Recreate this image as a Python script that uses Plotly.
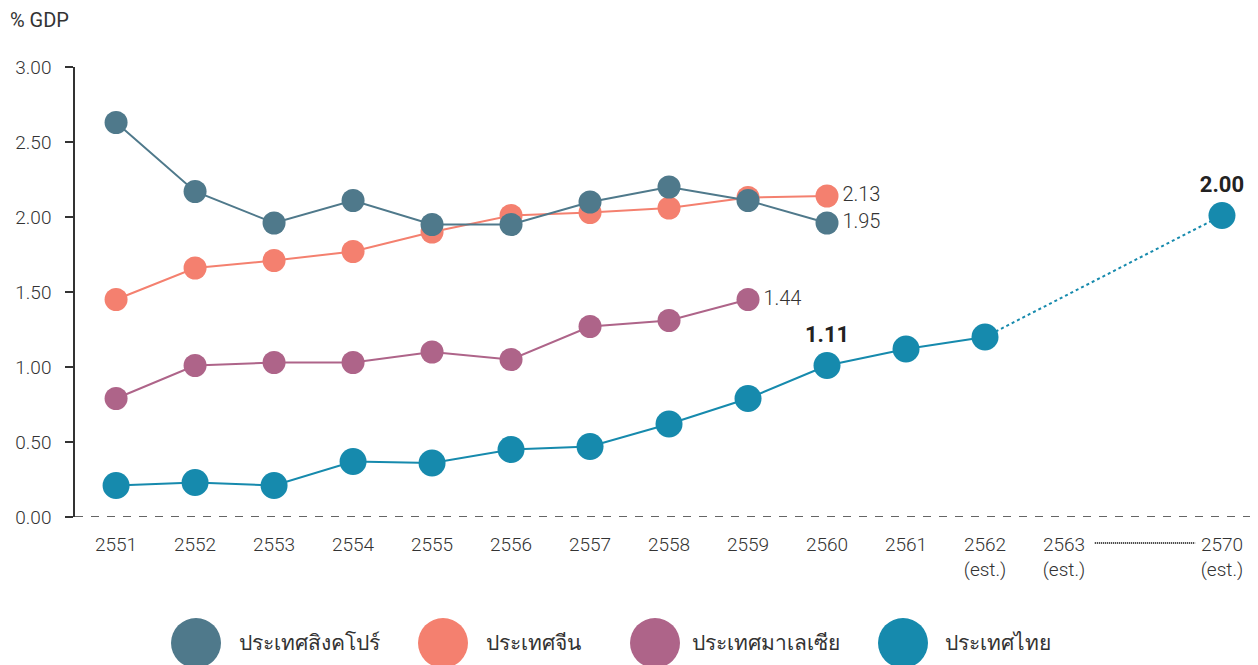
import plotly.graph_objects as go

# ---- data ----
years = ["2551", "2552", "2553", "2554", "2555", "2556", "2557", "2558",
         "2559", "2560", "2561", "2562", "2563", "2570"]
tick_text = ["2551", "2552", "2553", "2554", "2555", "2556", "2557", "2558",
             "2559", "2560", "2561", "2562<br>(est.)", "2563<br>(est.)", "2570<br>(est.)"]
tick_pos = [0, 1, 2, 3, 4, 5, 6, 7, 8, 9, 10, 11, 12, 14]

series_names = ["ประเทศสิงคโปร์", "ประเทศจีน", "ประเทศมาเลเซีย", "ประเทศไทย"]
colors = ["#4F798B", "#F4806F", "#AE6489", "#168AAD"]

singapore = [2.63, 2.17, 1.96, 2.11, 1.95, 1.95, 2.10, 2.20, 2.11, 1.96]
china = [1.45, 1.66, 1.71, 1.77, 1.90, 2.01, 2.03, 2.06, 2.13, 2.14]
malaysia = [0.79, 1.01, 1.03, 1.03, 1.10, 1.05, 1.27, 1.31, 1.45]
thailand = [0.21, 0.23, 0.21, 0.37, 0.36, 0.45, 0.47, 0.62, 0.79, 1.01, 1.12, 1.20]
thailand_target_year_pos = 14
thailand_target = 2.01

sg_label = "1.95"
cn_label = "2.13"
my_label = "1.44"
th_label = "1.11"
th_target_label = "2.00"

FONT = "Roboto"
TXT = "#333333"

fig = go.Figure()

def end_text(n, label):
    return [""] * (n - 1) + [label]

light = dict(family=FONT, size=20, color=TXT, weight=300)
bold = dict(family=FONT, size=22, color="#222222", weight="bold")

# Thailand dashed projection
fig.add_trace(go.Scatter(
    x=[tick_pos[len(thailand) - 1], thailand_target_year_pos],
    y=[thailand[-1], thailand_target],
    mode="lines", line=dict(color=colors[3], width=2, dash="dot"),
    hoverinfo="skip", showlegend=False))

fig.add_trace(go.Scatter(
    x=tick_pos[:len(china)], y=china, mode="lines+markers+text",
    line=dict(color=colors[1], width=2),
    marker=dict(color=colors[1], size=23),
    text=end_text(len(china), cn_label), textposition="middle right",
    textfont=light, cliponaxis=False, showlegend=False))

fig.add_trace(go.Scatter(
    x=tick_pos[:len(singapore)], y=singapore, mode="lines+markers+text",
    line=dict(color=colors[0], width=2),
    marker=dict(color=colors[0], size=23),
    text=end_text(len(singapore), sg_label), textposition="middle right",
    textfont=light, cliponaxis=False, showlegend=False))

fig.add_trace(go.Scatter(
    x=tick_pos[:len(malaysia)], y=malaysia, mode="lines+markers+text",
    line=dict(color=colors[2], width=2),
    marker=dict(color=colors[2], size=23),
    text=end_text(len(malaysia), my_label), textposition="middle right",
    textfont=light, cliponaxis=False, showlegend=False))

th_text = [""] * len(thailand)
th_text[9] = th_label
fig.add_trace(go.Scatter(
    x=tick_pos[:len(thailand)], y=thailand, mode="lines+markers+text",
    line=dict(color=colors[3], width=2),
    marker=dict(color=colors[3], size=27),
    text=th_text, textposition="top center",
    textfont=bold, cliponaxis=False, showlegend=False))

fig.add_trace(go.Scatter(
    x=[thailand_target_year_pos], y=[thailand_target], mode="markers+text",
    marker=dict(color=colors[3], size=27),
    text=[th_target_label], textposition="top center",
    textfont=bold, cliponaxis=False, showlegend=False))

# page body has an 8px margin; screen plot area x 75..1258, y 67..517
OFF = 8
W, H = 1258 - OFF, 665 - OFF
L, R = 75 - OFF, 0
T = 67 - OFF
B = H - (517 - OFF)
pw, ph = W - L - R, H - T - B

def px_x(px):
    return (px - 75) / pw

def px_y(py):
    return (517 - py) / ph

shapes = []
# dashed baseline
shapes.append(dict(type="line", xref="paper", yref="y", x0=0, x1=1, y0=0, y1=0,
                   line=dict(color="#333333", width=1.5, dash="8px,8px")))
# dotted connector between 2563 and 2570 tick labels
shapes.append(dict(type="line", xref="x", yref="paper", x0=12.39, x1=13.66,
                   y0=px_y(543), y1=px_y(543),
                   line=dict(color="#222222", width=2, dash="1px,1px")))

# legend circles + labels
leg_cx = [196, 443, 655, 903]
leg_tx = [237, 484, 690, 943]
annotations = []
for name, col, cx, tx in zip(series_names, colors, leg_cx, leg_tx):
    shapes.append(dict(type="circle", xref="paper", yref="paper",
                       xsizemode="pixel", ysizemode="pixel",
                       xanchor=px_x(cx), yanchor=px_y(643),
                       x0=-25, x1=25, y0=-25, y1=25,
                       fillcolor=col, line=dict(width=0)))
    annotations.append(dict(text=name, xref="paper", yref="paper",
                            x=px_x(tx), y=px_y(643), xanchor="left", yanchor="middle",
                            showarrow=False, font=dict(family=FONT, size=21, color=TXT)))

annotations.append(dict(text="% GDP", xref="paper", yref="paper",
                        x=px_x(8), y=px_y(20), xanchor="left", yanchor="middle",
                        showarrow=False, font=dict(family=FONT, size=20, color=TXT)))

fig.update_layout(
    width=W, height=H,
    margin=dict(l=L, r=R, t=T, b=B, pad=0),
    paper_bgcolor="white", plot_bgcolor="white",
    shapes=shapes, annotations=annotations,
    xaxis=dict(range=[-0.52, 14.456], tickvals=tick_pos, ticktext=tick_text,
               showgrid=False, zeroline=False, showline=False, ticks="",
               ticklabelstandoff=14,
               tickfont=dict(family=FONT, size=19, color=TXT, weight=300)),
    yaxis=dict(range=[0, 3], tickvals=[0, 0.5, 1, 1.5, 2, 2.5, 3],
               tickformat=".2f", showgrid=False, zeroline=False,
               showline=True, linecolor="#333333", linewidth=1.5,
               ticks="outside", ticklen=8, tickcolor="#333333", tickwidth=1.5,
               ticklabelstandoff=10,
               tickfont=dict(family=FONT, size=19, color=TXT, weight=300)),
    showlegend=False,
)

fig.write_html("out.html")
